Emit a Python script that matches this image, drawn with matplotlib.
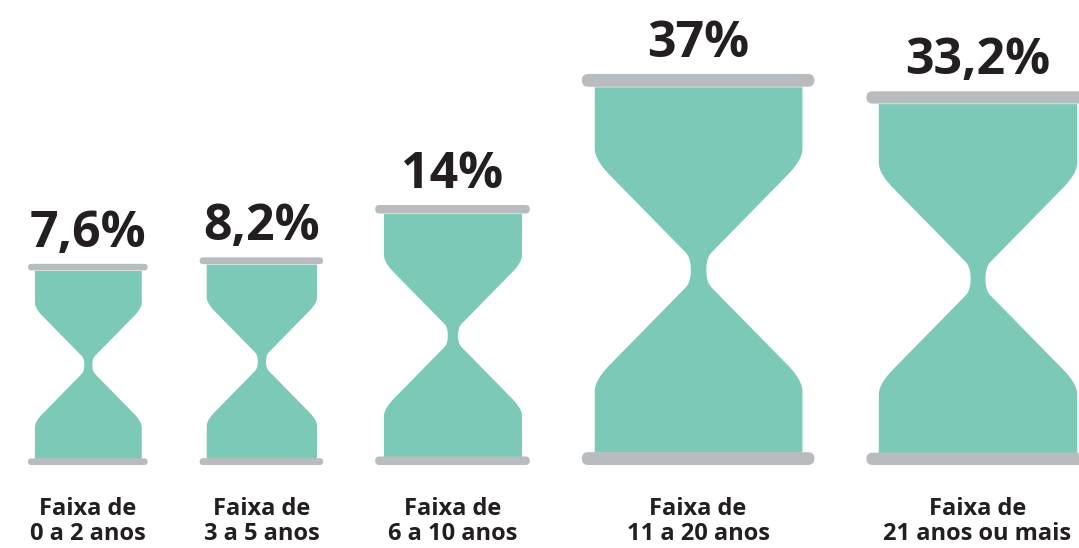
import numpy as np
import matplotlib
matplotlib.use('Agg')
import matplotlib.pyplot as plt
from matplotlib.patches import FancyBboxPatch

# data
values = [7.6, 8.2, 14, 37, 33.2]
line1 = ['Faixa de'] * 5
line2 = ['0 a 2 anos', '3 a 5 anos', '6 a 10 anos', '11 a 20 anos', '21 anos ou mais']

TEAL = '#7CC9B7'
GRAY = '#B9BCBF'
INK = '#231F20'

# size scale: hourglass height ~ k * value**p (pixel units)
SIZE_K = 83
SIZE_P = 0.42
ASPECT = 0.615     # bar length / height
BAR_T = 0.034      # bar thickness / height
BODY_W = 0.893     # body width / bar length
LEFT = 28
GAP = 52


def bezier(p0, p1, p2, n=30):
    u = np.linspace(0, 1, n)[:, None]
    return (1 - u) ** 2 * np.array(p0) + 2 * (1 - u) * u * np.array(p1) + u ** 2 * np.array(p2)


def profile():
    """half-width (fraction) vs s, s=0 top of body, 0.5 the neck"""
    slope = 3.45
    line = lambda s: 0.57 - slope * (s - 0.323)
    pts = [np.array([[0.0, 1.0], [0.168, 1.0]])]
    pts.append(bezier((0.168, 1.0), (0.198, 1.0), (0.24, line(0.24))))
    pts.append(np.array([[0.452, line(0.452)]]))
    pts.append(bezier((0.452, line(0.452)), (0.4665, 0.075), (0.5, 0.075)))
    top = np.vstack(pts)
    bot = top[::-1].copy()
    bot[:, 0] = 1 - bot[:, 0]
    return np.vstack([top, bot[1:]])


fig = plt.figure(figsize=(10.79, 5.48), dpi=100)
ax = fig.add_axes([0, 0, 1, 1])
ax.set_xlim(0, 1079)
ax.set_ylim(-83, 465)
ax.axis('off')

prof = profile()
x_edge = LEFT
for v, l1, l2 in zip(values, line1, line2):
    h = SIZE_K * v ** SIZE_P
    w = ASPECT * h
    t = BAR_T * h
    cx = x_edge + w / 2
    x_edge += w + GAP

    hw = w / 2 * BODY_W
    y = h - prof[:, 0] * (h - t)
    ax.fill_betweenx(y, cx - hw * prof[:, 1], cx + hw * prof[:, 1],
                     color=TEAL, lw=0, zorder=1)
    for yb in (0, h):
        ax.add_patch(FancyBboxPatch((cx - w / 2, yb), w, t,
                                    boxstyle=f'round,pad=0,rounding_size={t / 2}',
                                    fc=GRAY, ec='none', zorder=2))

    label = f'{v:g}'.replace('.', ',') + '%'
    ax.text(cx, h + t + 17, label, ha='center', va='baseline', fontsize=36,
            fontweight='bold', family='Open Sans', color=INK)
    ax.text(cx, -50, l1, ha='center', va='baseline', fontsize=17,
            fontweight='bold', family='Open Sans', color=INK)
    ax.text(cx, -75, l2, ha='center', va='baseline', fontsize=17,
            fontweight='bold', family='Open Sans', color=INK)

fig.savefig('out.png', dpi=100, facecolor='white')
